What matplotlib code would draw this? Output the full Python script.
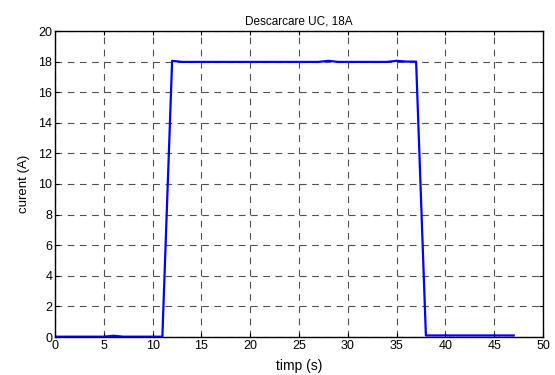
import matplotlib
matplotlib.use("Agg")
import matplotlib.pyplot as plt

time_s = [0, 1, 2, 3, 4, 5, 6, 7, 8, 9, 10, 11, 12, 13, 14, 15, 16, 17, 18, 19, 20,
          21, 22, 23, 24, 25, 26, 27, 28, 29, 30, 31, 32, 33, 34, 35, 36, 37, 38,
          39, 40, 41, 42, 43, 44, 45, 46, 47]
current_a = [0.02, 0.02, 0.02, 0.02, 0.02, 0.02, 0.08, 0.02, 0.02, 0.02, 0.02, 0.02,
             18.05, 17.98, 17.98, 17.98, 17.98, 17.98, 17.98, 17.98, 17.98,
             17.98, 17.98, 17.98, 17.98, 17.98, 17.98, 17.98, 18.05, 17.98, 17.98,
             17.98, 17.98, 17.98, 17.98, 18.05, 18.0, 18.0, 0.1,
             0.1, 0.1, 0.1, 0.1, 0.1, 0.1, 0.1, 0.1, 0.1]
x_ticks = list(range(0, 51, 5))
y_ticks = list(range(0, 21, 2))

plt.rcParams['font.family'] = ['Liberation Sans', 'DejaVu Sans']

fig = plt.figure(figsize=(5.55, 3.75), dpi=100)
ax = fig.add_axes([55/555, 1 - 337/375, (543 - 55)/555, (337 - 31)/375])
ax.plot(time_s, current_a, color='#0000ff', linewidth=1.6)
ax.set_xlim(0, 50)
ax.set_ylim(0, 20)
ax.set_xticks(x_ticks)
ax.set_yticks(y_ticks)
ax.tick_params(direction='in', labelsize=9, length=3, width=0.8, top=True, right=True, pad=2)
ax.grid(True, color='#505050', linestyle=(0, (6, 5)), linewidth=0.8)
for s in ax.spines.values():
    s.set_linewidth(1.0)
ax.set_title('Descarcare UC, 18A', fontsize=8.5, pad=5)
ax.set_xlabel('timp (s)', fontsize=10, labelpad=5)
ax.set_ylabel('curent (A)', fontsize=9.5, labelpad=6)
fig.savefig('out.png', dpi=100)
